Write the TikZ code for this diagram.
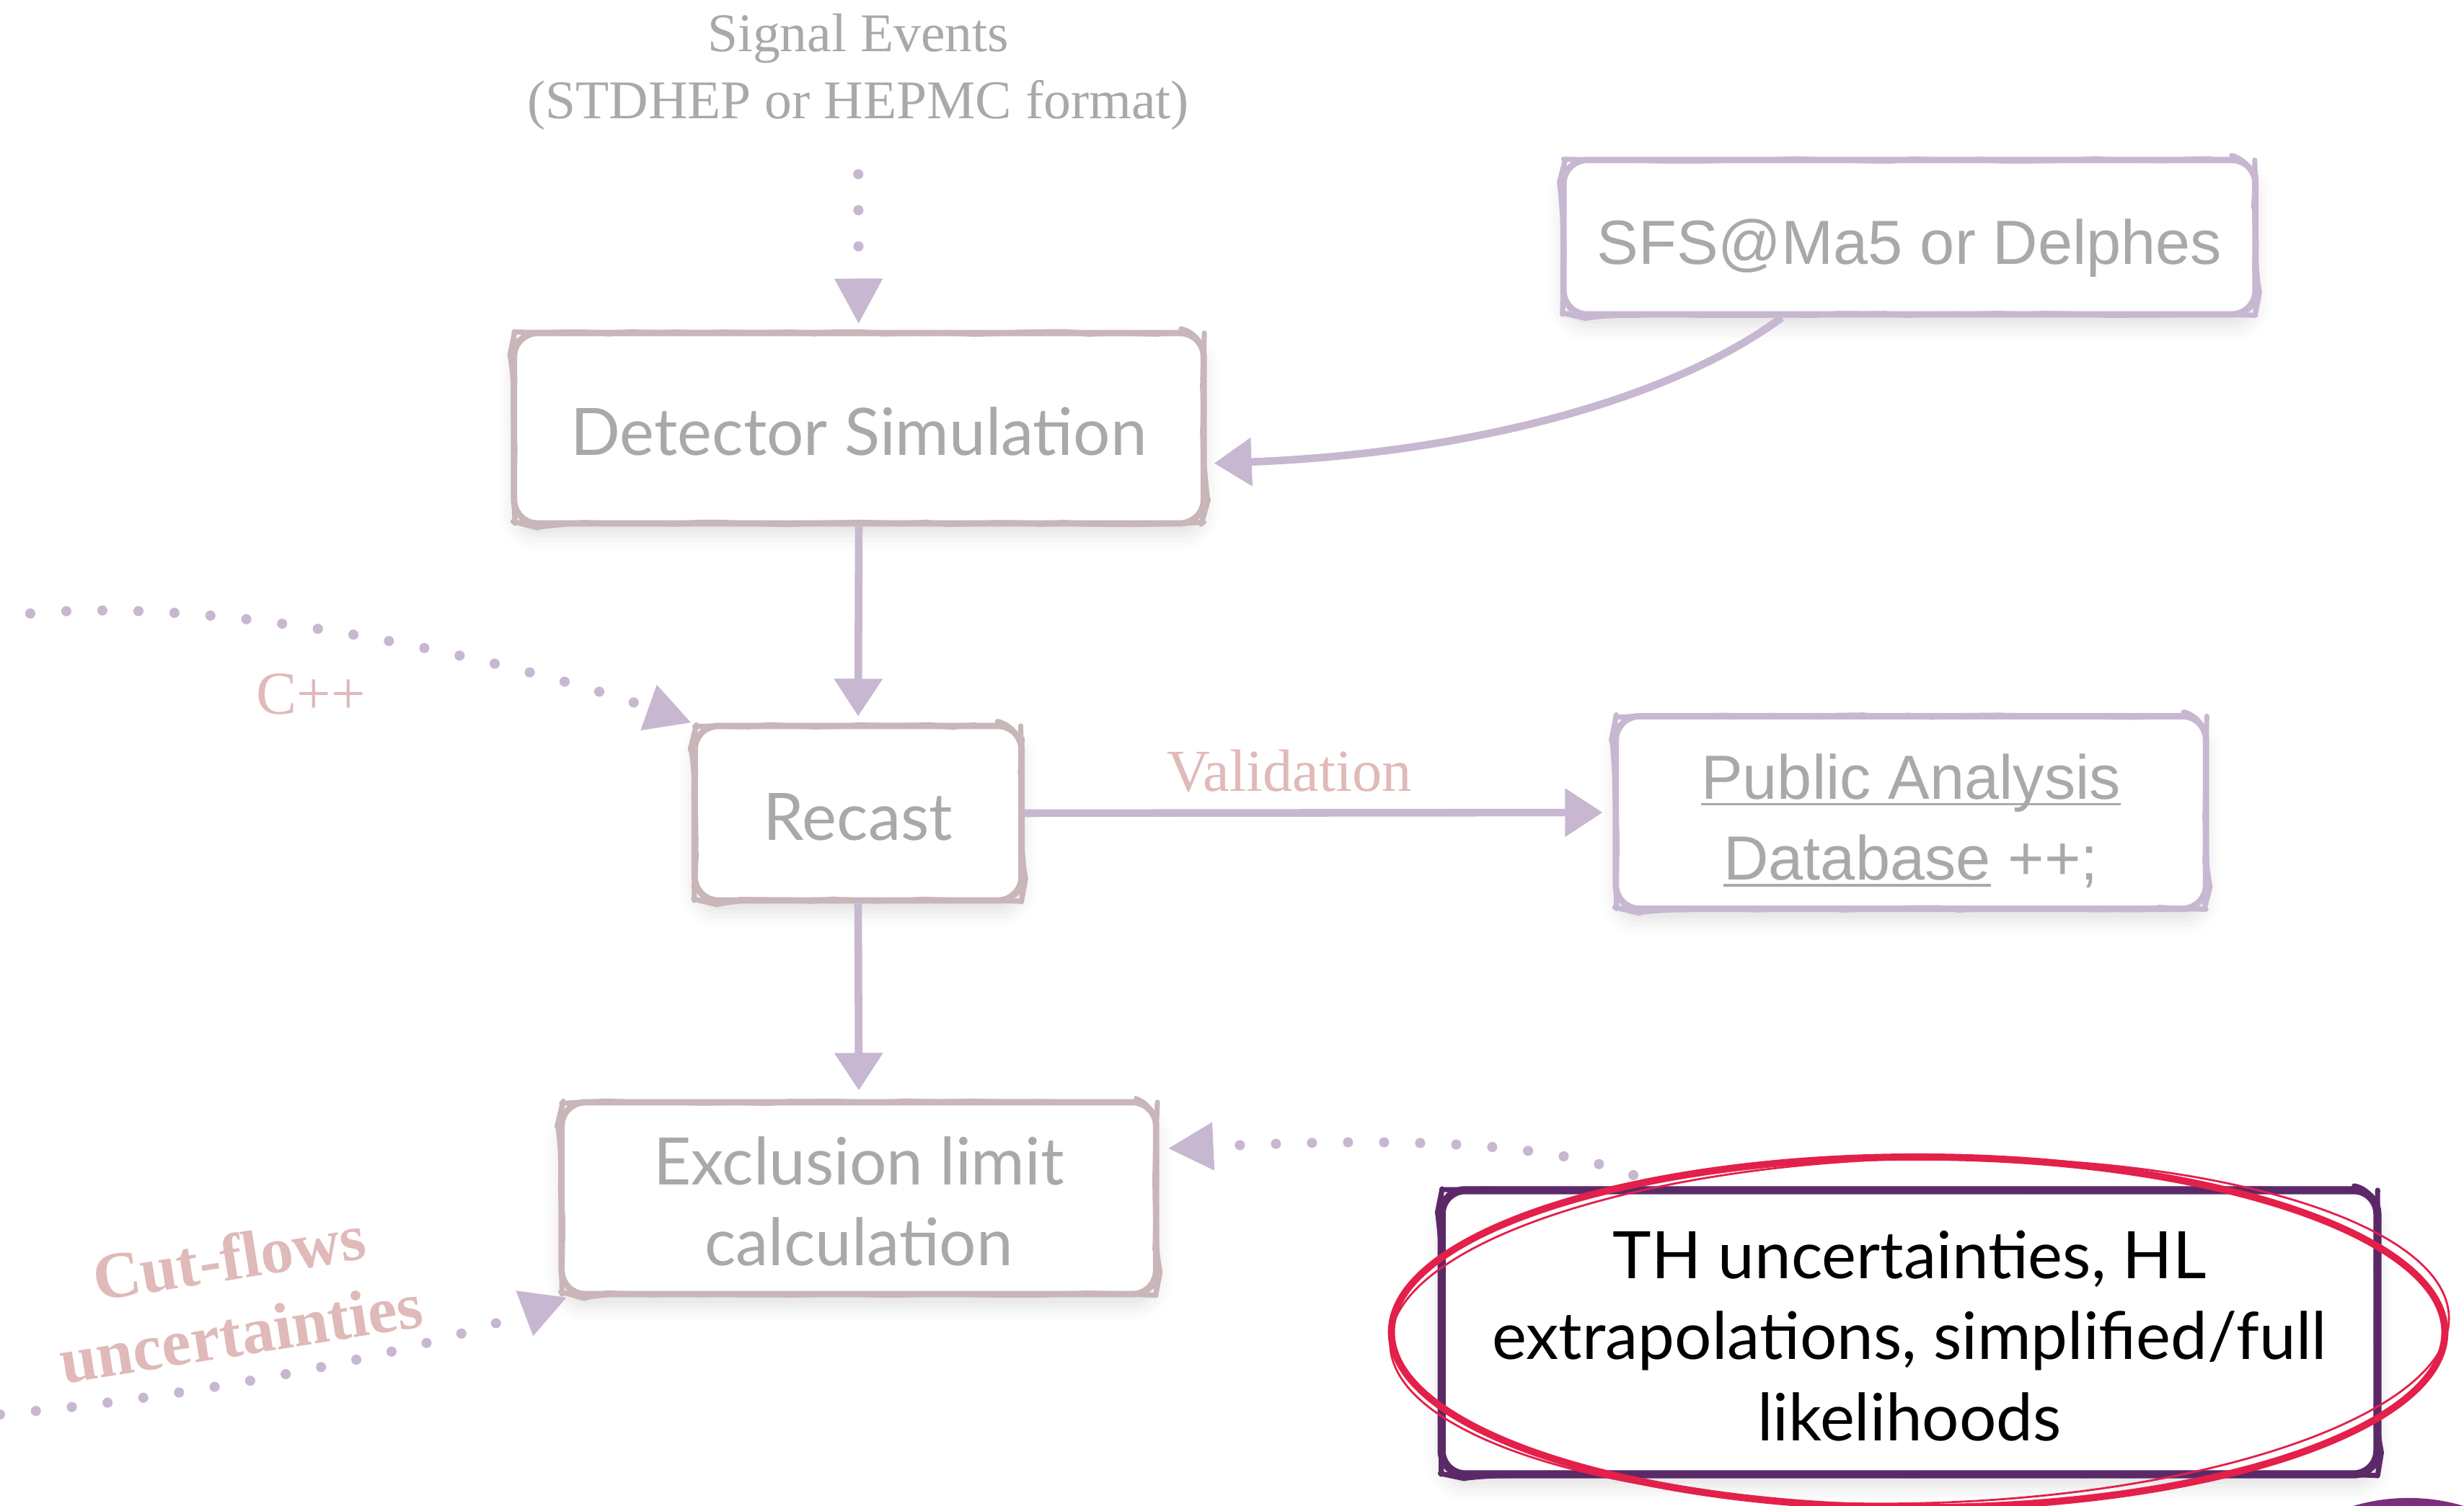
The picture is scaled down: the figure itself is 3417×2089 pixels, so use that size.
\documentclass[tikz,border=0pt]{standalone}
\usepackage{fontspec}
\setmainfont{Liberation Serif}
\newfontfamily\geo{Lato}
\newfontfamily\helv{Liberation Sans}
\usetikzlibrary{arrows.meta,shadows.blur,decorations.pathmorphing,calc}

\definecolor{txtgrey}{HTML}{A9A9A9}
\definecolor{rosebox}{HTML}{C8B6B9}
\definecolor{lilac}{HTML}{C7B7D0}
\definecolor{rosetext}{HTML}{E0B9B9}
\definecolor{plum}{HTML}{5B2968}
\definecolor{inkred}{HTML}{E3204A}
\definecolor{grape}{HTML}{7B2D7C}

% underline sitting just below the baseline
\newcommand{\linkul}[1]{\setbox0=\hbox{#1}\rlap{\rule[-2.6pt]{\wd0}{1.1pt}}\box0\relax}
% centred lines of box text, set a little low in the box
\newcommand{\boxlines}[1]{\raisebox{0pt}[\dimexpr\height+8.6pt\relax][\depth]{%
  \begin{tabular}{@{}c@{}}#1\end{tabular}}}

\tikzset{
  sketchbox/.style={rectangle, rounded corners=0.33cm, line width=2.5pt,
    line join=round, fill=white, inner sep=0pt, text=txtgrey,
    font=\geo\fontsize{25.8}{32}\selectfont,
    blur shadow={shadow xshift=0pt, shadow yshift=-0.16cm,
      shadow opacity=12, shadow blur radius=0.22cm},
    postaction={draw, decorate, line join=round,
      decoration={random steps, segment length=9pt, amplitude=0.5pt},
      line width=2pt}},
  helvtext/.style={font=\helv\fontsize{24.6}{32}\selectfont},
  dotarrow/.style={draw=lilac, line width=4pt, line cap=round,
    dash pattern=on 0pt off 0.5cm,
    -{Triangle[width=0.63cm,length=0.63cm]}},
  solidarrow/.style={draw=lilac, line width=3pt,
    -{Triangle[width=0.65cm,length=0.52cm]}},
  seriflabel/.style={inner sep=0pt, text=rosetext,
    font=\fontsize{23.5}{28}\selectfont},
}

\begin{document}
\begin{tikzpicture}[x=0.01cm, y=-0.01cm]
\useasboundingbox (0,0) rectangle (3417,2089);

% input events
\node[inner sep=0pt, align=center, text=txtgrey,
      font=\fontsize{21.5}{26.5}\selectfont] (sig) at (1190,100)
  {Signal Events\\(STDHEP or HEPMC format)};

% boxes
\node[sketchbox, draw=rosebox, minimum width=9.56cm, minimum height=2.64cm]
  (det) at (1191,594) {\boxlines{Detector Simulation}};
\node[sketchbox, helvtext, draw=lilac, minimum width=9.59cm, minimum height=2.14cm]
  (sfs) at (2648,329) {\boxlines{SFS@Ma5 or Delphes}};
\node[sketchbox, draw=rosebox, minimum width=4.53cm, minimum height=2.42cm]
  (rec) at (1190,1128) {\boxlines{Recast}};
\node[sketchbox, helvtext, draw=lilac, minimum width=8.18cm, minimum height=2.67cm]
  (pub) at (2650,1127) {\boxlines{\linkul{Public Analysis}\\\linkul{Database} ++;}};
\node[sketchbox, draw=rosebox, minimum width=8.24cm, minimum height=2.66cm]
  (exc) at (1191,1662) {\boxlines{Exclusion limit\\calculation}};
\node[sketchbox, draw=plum, line width=3.2pt, text=black,
      minimum width=12.97cm, minimum height=3.94cm]
  (th) at (2648,1848)
  {\boxlines{TH uncertainties, HL\\extrapolations, simplified/full\\likelihoods}};

% free ends of the dotted inputs
\coordinate (cppstart) at (42,851);
\coordinate (cutstart) at (0,1962);
\coordinate (thstart) at (2265,1630);

% connectors
\draw[dotarrow, shorten <=0.6cm, shorten >=0.08cm] (sig) -- (det);
\draw[solidarrow, shorten >=0.1cm] ([xshift=-1.77cm]sfs.south)
  .. controls (2310,560) and (2020,630) .. ([yshift=-0.49cm]det.east);
\draw[solidarrow, shorten >=0.09cm] (det.south) -- (rec.north);
\draw[solidarrow, shorten >=0.12cm] (rec.south) -- (exc.north);
\draw[solidarrow, shorten >=0.14cm] (rec.east) -- (pub.west)
  node[seriflabel, pos=0.45, above=0.24cm] (val) {Validation};
\draw[dotarrow] (cppstart)
  .. controls (330,825) and (740,925) .. (rec.north west);
\draw[dotarrow] (thstart)
  .. controls (2130,1578) and (1900,1580) .. ([yshift=0.69cm, xshift=0.12cm]exc.east);
\draw[dotarrow] (cutstart)
  .. controls (300,1935) and (600,1870) .. ([xshift=0.12cm]exc.south west);

% labels
\node[seriflabel, font=\fontsize{24}{28}\selectfont] (cpp) at (431,963) {C++};
\node[inner sep=0pt, align=center, text=rosetext, rotate=9,
      font=\bfseries\fontsize{26}{30}\selectfont] (cut) at (326,1796)
  {Cut-flows\\uncertainties};

% hand-drawn highlight around the theory box
\draw[inkred, line width=2.8pt] (2660,1848) ellipse [x radius=7.3cm, y radius=2.43cm];
\draw[inkred, line width=0.8pt, rotate around={1.5:(2660,1848)}]
  (2662,1846) ellipse [x radius=7.34cm, y radius=2.39cm];

% corner disc
\fill[grape] (3340,2346) circle [radius=2.68cm];
\end{tikzpicture}
\end{document}
